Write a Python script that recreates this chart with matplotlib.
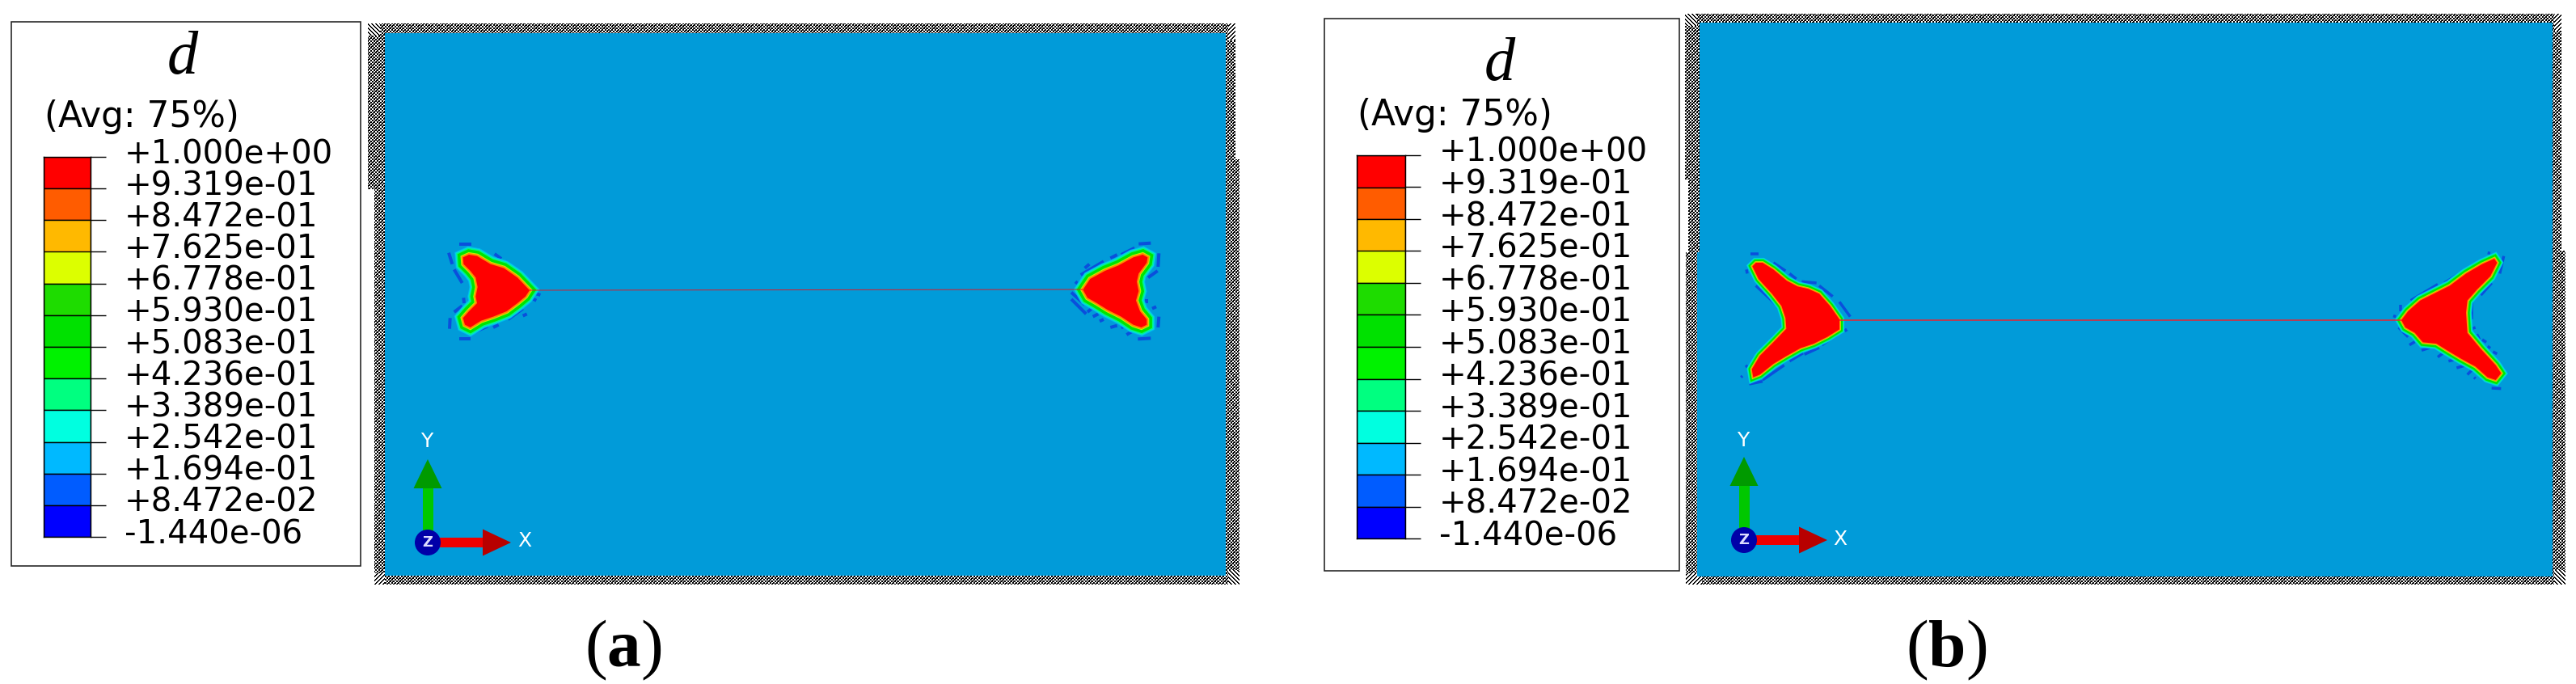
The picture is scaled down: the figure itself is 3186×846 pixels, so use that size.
import numpy as np
import matplotlib
matplotlib.use("Agg")
import matplotlib.pyplot as plt
from matplotlib.patches import Polygon, Rectangle, Circle

plt.rcParams['mathtext.fontset'] = 'custom'
plt.rcParams['mathtext.rm'] = 'Liberation Serif'
plt.rcParams['mathtext.bf'] = 'Liberation Serif:bold'

W, H, DPI = 3186, 846, 100

# ---- data -------------------------------------------------------------
legend_title = "d"
legend_sub = "(Avg: 75%)"
level_labels = ["+1.000e+00", "+9.319e-01", "+8.472e-01", "+7.625e-01", "+6.778e-01",
                "+5.930e-01", "+5.083e-01", "+4.236e-01", "+3.389e-01", "+2.542e-01",
                "+1.694e-01", "+8.472e-02", "-1.440e-06"]
band_colors = ["#ff0000", "#ff5c00", "#ffb900", "#dcff00", "#1edc00", "#00e100",
               "#00f200", "#00ff80", "#00ffe0", "#00b9ff", "#005cff", "#0000ff"]
bg_color = "#019bd9"

# damage zones: outlines (local crop units, 3 per pixel)
a_left = [(465,297),(420,250),(370,215),(320,200),(270,170),(240,165),(218,175),(220,200),(245,225),(265,250),
          (272,285),(265,320),(270,345),(240,375),(218,400),(225,425),(245,435),(285,410),(330,395),(380,375),
          (420,345),(450,320)]
a_right = [(208,295),(235,255),(290,225),(340,205),(395,175),(430,165),(448,175),(445,195),(415,235),(408,265),
           (415,300),(405,335),(420,375),(445,405),(445,425),(425,435),(395,425),(350,395),(300,370),(260,345),(225,325)]
b_left = [(585,375),(550,325),(510,280),(470,262),(430,253),(390,232),(340,190),(300,165),(275,165),(262,178),
          (285,225),(335,280),(370,325),(385,370),(388,410),(340,460),(290,510),(260,560),(265,590),(290,580),
          (340,540),(390,510),(440,482),(490,465),(540,440),(585,412)]
b_right = [(270,378),(295,345),(340,305),(400,275),(450,250),(510,205),(570,170),(615,150),(625,165),(600,215),
           (550,265),(515,305),(510,350),(515,425),(565,485),(620,545),(640,575),(620,600),(590,590),(545,550),
           (490,520),(440,490),(400,465),(350,460),(320,425),(285,405)]

a_left_specks = [[(165,158),(178,200)],[(205,125),(250,125)],[(268,145),(310,170)],[(335,162),(360,180)],
                 [(375,190),(440,240)],[(440,240),(480,280)],[(185,220),(215,270)],[(220,325),(222,345)],
                 [(185,378),(215,355)],[(170,400),(168,440)],[(205,478),(245,478)],[(265,450),(310,430)],
                 [(330,435),(350,425)],[(385,405),(440,365)],[(440,392),(455,385)],[(490,310),(505,315)],[(470,325),(490,335)]]
a_right_specks = [[(415,125),(460,122)],[(490,160),(487,210)],[(450,250),(485,225)],[(445,330),(445,345)],
                  [(465,365),(480,358)],[(490,395),(487,435)],[(412,478),(460,475)],[(370,462),(390,450)],
                  [(350,435),(365,430)],[(310,435),(335,428)],[(270,412),(285,405)],[(245,395),(265,385)],
                  [(225,378),(240,365)],[(165,330),(220,385)],[(165,305),(215,350)],[(180,265),(195,278)],
                  [(200,240),(285,190)],[(310,178),(335,165)],[(350,165),(400,140)],[(215,215),(232,200)]]
b_left_specks = [[(255,132),(285,132)],[(240,190),(243,205)],[(340,165),(385,195)],[(400,205),(425,225)],
                 [(445,235),(500,240)],[(510,250),(560,290)],[(585,310),(625,365)],[(605,410),(612,420)],
                 [(275,250),(350,320)],[(335,445),(360,425)],[(275,505),(290,495)],[(238,545),(245,555)],
                 [(220,590),(225,585)],[(250,615),(300,605)],[(300,600),(380,545)],[(400,530),(450,500)],
                 [(455,505),(510,480)],[(520,470),(575,430)]]
b_right_specks = [[(590,128),(600,130)],[(650,140),(635,205)],[(565,285),(605,240)],[(430,240),(540,170)],
                  [(530,300),(530,375)],[(305,305),(405,245)],[(268,320),(268,345)],[(240,362),(250,365)],
                  [(260,405),(295,440)],[(300,470),(320,458)],[(345,490),(375,480)],[(405,515),(425,500)],
                  [(445,530),(465,525)],[(475,555),(510,545)],[(515,580),(530,565)],[(540,590),(545,595)],
                  [(530,410),(545,405)],[(550,430),(560,450)],[(570,450),(585,460)],[(590,475),(600,482)],
                  [(610,495),(625,503)],[(605,630),(640,632)]]

# ---- canvas in pixel units ---------------------------------------------
fig = plt.figure(figsize=(W/DPI, H/DPI), dpi=DPI, facecolor='white')
ax = fig.add_axes([0, 0, 1, 1])
px = 72/DPI


def frame(blue, outer, pieces):
    """Patterned mesh border around the blue plate."""
    ox0, oy0, ox1, oy1 = outer
    for (x0, y0, x1, y1) in pieces:
        xs, ys = np.meshgrid(np.arange(x0, x1), np.arange(y0, y1))
        fine = (xs//2 + ys//2) % 2
        coarse = ((xs//6 + ys//6) % 2) * (((xs + ys) % 4) == 0)
        img = np.where(coarse == 1, 0.0, fine * 1.0)
        C = 15
        tl = (xs - ox0 < C) & (ys - oy0 < C)
        br = (ox1 - xs < C) & (oy1 - ys < C + 4)
        tr = (ox1 - xs < C) & (ys - oy0 < C + 6)
        bl = (xs - ox0 < C + 6) & (oy1 - ys < C)
        s1 = ((xs - ys) % 5 < 2) * 1.0
        s2 = ((xs + ys) % 5 < 2) * 1.0
        img = np.where(tl | br, 1 - s1, img)
        img = np.where(tr | bl, 1 - s2, img)
        ax.imshow(img, cmap='gray', vmin=0, vmax=1, extent=(x0, x1, y1, y0),
                  interpolation='nearest', aspect='auto', zorder=1)
    x0, y0, x1, y1 = blue
    ax.add_patch(Rectangle((x0, y0), x1-x0, y1-y0, fc=bg_color, ec='none', zorder=2))


def zone(outline, origin, specks, scale, speck_lw):
    pts = np.array(outline, float)/3 + origin
    for sp in specks:
        s = np.array(sp, float)/3 + origin
        ax.plot(s[:, 0], s[:, 1], color="#0a4fdc", lw=speck_lw*px, solid_capstyle='butt', zorder=3)
    widths = [(10.0, "#00b4f0"), (9.0, "#00dfd8"), (8.0, "#00f58a"), (6.5, "#00e400"),
              (3.0, "#c8f000"), (2.0, "#ff8a00")]
    for off, col in widths:
        ax.add_patch(Polygon(pts, closed=True, fc=col, ec=col, lw=2*off*scale*px,
                             joinstyle='miter', zorder=4))
    ax.add_patch(Polygon(pts, closed=True, fc="#ff0000", ec='none', zorder=5))


def triad(cx, cy, ylab, xlab):
    ax.add_patch(Rectangle((cx-6.5, cy-67), 13, 60, fc="#00c800", ec='none', zorder=6))
    ax.add_patch(Polygon([(cx, cy-103), (cx-17.5, cy-67), (cx+17.5, cy-67)], fc="#009a00", ec='none', zorder=6))
    ax.add_patch(Rectangle((cx+10, cy-6), 58, 12, fc="#ee0000", ec='none', zorder=6))
    ax.add_patch(Polygon([(cx+103, cy), (cx+68, cy-16.5), (cx+68, cy+16.5)], fc="#b80000", ec='none', zorder=6))
    ax.add_patch(Circle((cx, cy), 16, fc="#0000a8", ec='none', zorder=7))
    ax.text(cx, cy, "Z", color="#dcdcff", fontsize=13, ha='center', va='center',
            fontweight='bold', zorder=8)
    ax.text(*ylab, "Y", color='white', fontsize=18, ha='center', va='center', zorder=8)
    ax.text(*xlab, "X", color='white', fontsize=18, ha='center', va='center', zorder=8)


def legend(box, bar, dx_text, title_xy, sub_xy):
    x0, y0, x1, y1 = box
    ax.add_patch(Rectangle((x0, y0), x1-x0, y1-y0, fc='white', ec='#222222', lw=1.6*px, zorder=1))
    ax.text(*title_xy, legend_title, family='Liberation Serif', style='italic', fontsize=55,
            ha='center', va='center', color='black', zorder=3)
    ax.text(*sub_xy, legend_sub, family='DejaVu Sans', fontsize=31.5, ha='left', va='center', zorder=3)
    bx0, by0, bx1, by1 = bar
    cb = fig.add_axes([bx0/W, 1-by1/H, (bx1-bx0)/W, (by1-by0)/H])
    n = len(band_colors)
    idx = np.arange(n)
    cb.bar(np.zeros(n), np.ones(n), width=1, bottom=n-1-idx, align='center',
           color=band_colors, edgecolor='black', linewidth=1.4*px)
    cb.set_xlim(-0.5, 0.5)
    cb.set_ylim(0, n)
    cb.set_xticks([])
    ticks = n - np.arange(len(level_labels))
    cb.yaxis.tick_right()
    cb.set_yticks(ticks)
    cb.set_yticklabels([])
    cb.tick_params(axis='y', length=19*px, width=1.4*px, color='black')
    for s in cb.spines.values():
        s.set_linewidth(1.4*px)
    for t, lab in zip(ticks, level_labels):
        cb.annotate(lab, xy=(1, t), xycoords=('axes fraction', 'data'),
                    xytext=(dx_text*px, 3*px), textcoords='offset points',
                    ha='left', va='center', family='DejaVu Sans', fontsize=29, color='black',
                    annotation_clip=False)


# panel (a)
frame((476, 41, 1516, 712), (455, 29, 1533, 723),
      [(455, 29, 476, 234), (463, 234, 476, 723), (476, 29, 1516, 41), (476, 712, 1516, 723),
       (1516, 29, 1528, 197), (1516, 197, 1533, 723)])
zone(a_left, (500, 260), a_left_specks, 1.0, 4.0)
zone(a_right, (1270, 260), a_right_specks, 1.0, 4.0)
ax.plot([655, 1339], [359, 358], color="#d02030", lw=1.0*px, zorder=6, solid_capstyle='butt')
triad(529, 671, (528, 546), (649, 669))
legend((14, 27, 446, 700), (54, 194, 112, 664), 42, (226, 72), (55, 144))

# panel (b)
frame((2102, 28, 3157, 713), (2084, 17, 3173, 723),
      [(2084, 17, 2102, 222), (2088, 222, 2102, 312), (2085, 312, 2099, 723), (2102, 17, 3157, 28),
       (2099, 713, 3154, 723), (3157, 17, 3168, 310), (3154, 310, 3173, 723)])
ax.add_patch(Rectangle((2099, 312), 3, 401, fc=bg_color, ec='none', zorder=2))
zone(b_left, (2080, 270), b_left_specks, 0.62, 3.5)
zone(b_right, (2880, 270), b_right_specks, 0.7, 3.5)
ax.plot([2275, 2970], [396, 396], color="#e02838", lw=1.6*px, zorder=6, solid_capstyle='butt')
triad(2157, 668, (2156, 545), (2276, 667))
legend((1638, 23, 2077, 706), (1678, 192, 1738, 666), 42, (1855, 81), (1679, 142))

# sub-captions
for x, s in [(771, r'($\mathbf{a}$)'), (2407, r'($\mathbf{b}$)')]:
    ax.text(x, 804, s, family='Liberation Serif', fontsize=60, ha='center', va='center', color='black')

ax.set_xlim(0, W)
ax.set_ylim(H, 0)
ax.axis('off')
fig.savefig("out.png", dpi=DPI, facecolor='white')
